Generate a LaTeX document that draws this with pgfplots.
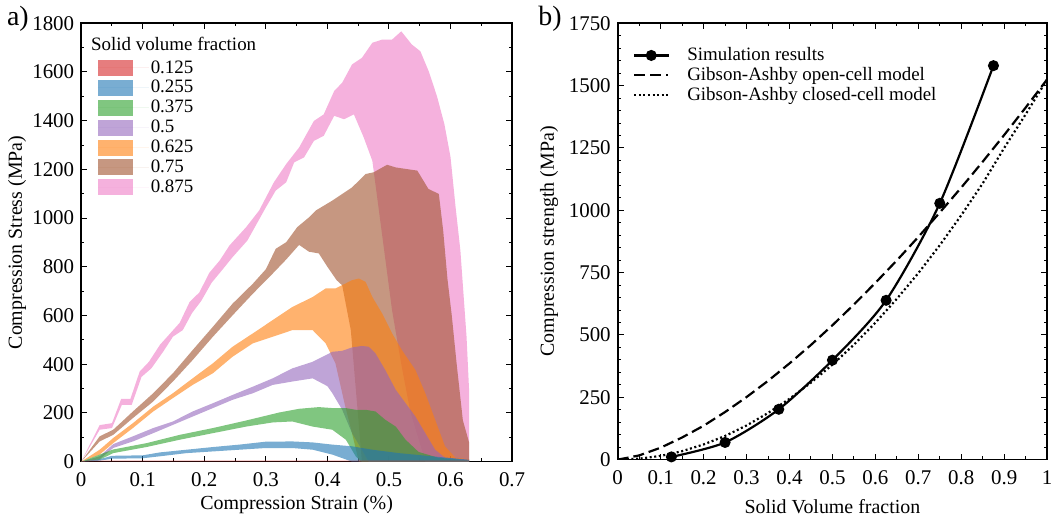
\documentclass[border=0pt]{standalone}
\usepackage{pgfplots}
\pgfplotsset{compat=1.18}
\usepackage{fontspec}
\setmainfont{Liberation Serif}
\definecolor{cred}{HTML}{D62728}
\definecolor{cblue}{HTML}{1F77B4}
\definecolor{cgreen}{HTML}{2CA02C}
\definecolor{cpurple}{HTML}{9467BD}
\definecolor{corange}{HTML}{FF7F0E}
\definecolor{cbrown}{HTML}{A0522D}
\definecolor{cpink}{HTML}{EE7DC6}
\pgfplotsset{
  common/.style={
    scale only axis,
    axis line style={line width=0.8pt},
    tick style={line width=0.5pt, black},
    major tick length=3pt, minor tick length=1.6pt,
    tick label style={font=\fontsize{10.5}{12}\selectfont},
    label style={font=\fontsize{11}{12}\selectfont},
    xticklabel style={yshift=-2pt},
    /pgf/number format/assume math mode=true,
    /pgf/number format/1000 sep={},
  },
  band/.style={fill=#1, fill opacity=0.6, draw=none},
}
\begin{document}
\begin{tikzpicture}
\path (0,0) rectangle (529.5pt,261pt);
\node[font=\fontsize{14}{15}\selectfont] at (9pt,252pt) {a)};
\node[font=\fontsize{14}{15}\selectfont] at (276pt,252pt) {b)};
\begin{axis}[common,
  at={(40.75pt,30pt)}, anchor=south west,
  width=216.25pt, height=220pt,
  xmin=0, xmax=0.7, ymin=0, ymax=1800,
  xtick={0,0.1,0.2,0.3,0.4,0.5,0.6,0.7},
  ytick={0,200,400,600,800,1000,1200,1400,1600,1800},
  minor x tick num=1, minor y tick num=1,
  xlabel={Compression Strain (\%)},
  ylabel={Compression Stress (MPa)},
  every axis x label/.style={at={(axis description cs:0.5,-0.098)}, anchor=center},
  every axis y label/.style={at={(axis description cs:-0.149,0.5)}, rotate=90, anchor=center},
  legend image code/.code={\fill[#1] (0pt,-4pt) rectangle (17.5pt,4pt); \path (0pt,0pt) -- (25.5pt,0pt);},
  legend style={at={(0.038,0.922)}, anchor=north west, draw=none, fill=none,
    inner sep=0pt, row sep=0pt, font=\fontsize{9.5}{10}\selectfont,
    nodes={inner sep=1pt, text height=6.6pt, text depth=1.4pt}},
  legend cell align=left,
  reverse legend,
]
\addplot[band=cpink] coordinates {(0,0)(0.03,150)(0.05,158)(0.065,258)(0.08,258)(0.095,370)(0.11,410)(0.128,480)(0.16,570)(0.176,655)(0.192,695)(0.208,775)(0.225,826)(0.241,888)(0.268,963)(0.289,1031)(0.313,1147)(0.333,1222)(0.354,1290)(0.378,1399)(0.394,1426)(0.411,1522)(0.424,1556)(0.44,1631)(0.456,1658)(0.473,1720)(0.489,1733)(0.505,1733)(0.52,1767)(0.537,1713)(0.551,1685)(0.565,1600)(0.578,1500)(0.59,1386)(0.60,1250)(0.608,1050)(0.616,867)(0.626,513)(0.63,300)(0.63,0)(0.559,0)(0.535,200)(0.52,400)(0.505,622)(0.473,1235)(0.459,1331)(0.443,1426)(0.427,1406)(0.411,1420)(0.394,1338)(0.378,1317)(0.362,1249)(0.346,1229)(0.333,1147)(0.316,1113)(0.30,1044)(0.27,908)(0.246,840)(0.23,790)(0.212,735)(0.195,660)(0.18,610)(0.165,540)(0.149,513)(0.133,451)(0.114,383)(0.098,348)(0.082,233)(0.066,233)(0.05,138)(0.03,131)} -- cycle;
\addlegendentry{0.875}
\addplot[band=cbrown] coordinates {(0,0)(0.03,104)(0.052,131)(0.084,206)(0.117,281)(0.149,363)(0.181,458)(0.214,554)(0.246,649)(0.279,731)(0.30,790)(0.316,874)(0.333,901)(0.351,963)(0.37,1003)(0.381,1031)(0.408,1072)(0.44,1126)(0.462,1181)(0.475,1188)(0.497,1219)(0.511,1208)(0.546,1195)(0.564,1120)(0.581,1099)(0.588,950)(0.595,750)(0.602,600)(0.61,400)(0.62,170)(0.63,80)(0.63,0)(0.456,0)(0.438,540)(0.424,724)(0.415,745)(0.40,800)(0.386,855)(0.37,862)(0.354,890)(0.333,830)(0.311,772)(0.279,690)(0.246,601)(0.214,513)(0.181,417)(0.149,329)(0.117,247)(0.084,179)(0.052,110)(0.03,83)} -- cycle;
\addlegendentry{0.75}
\addplot[band=corange] coordinates {(0,0)(0.03,49)(0.052,97)(0.084,158)(0.117,226)(0.149,281)(0.181,342)(0.214,404)(0.246,472)(0.279,527)(0.311,581)(0.343,635)(0.376,676)(0.397,711)(0.413,711)(0.429,731)(0.44,745)(0.451,752)(0.462,738)(0.473,676)(0.489,608)(0.505,527)(0.521,458)(0.543,376)(0.559,281)(0.575,172)(0.591,63)(0.608,16)(0.63,10)(0.63,0)(0.451,0)(0.44,117)(0.429,226)(0.413,404)(0.397,486)(0.376,540)(0.343,540)(0.311,513)(0.279,486)(0.246,431)(0.214,363)(0.181,315)(0.149,261)(0.117,206)(0.084,138)(0.052,76)(0.03,29)} -- cycle;
\addlegendentry{0.625}
\addplot[band=cpurple] coordinates {(0,0)(0.03,22)(0.052,72)(0.084,104)(0.117,138)(0.149,165)(0.181,206)(0.214,240)(0.246,274)(0.279,308)(0.311,342)(0.343,383)(0.376,410)(0.408,451)(0.424,455)(0.44,469)(0.456,475)(0.467,472)(0.478,445)(0.494,376)(0.511,295)(0.527,240)(0.543,185)(0.559,117)(0.575,49)(0.591,16)(0.63,8)(0.63,0)(0.467,0)(0.456,49)(0.44,117)(0.424,213)(0.408,281)(0.40,310)(0.376,342)(0.343,329)(0.311,315)(0.279,281)(0.246,254)(0.214,220)(0.181,185)(0.149,151)(0.117,117)(0.084,83)(0.052,56)(0.03,10)} -- cycle;
\addlegendentry{0.5}
\addplot[band=cgreen] coordinates {(0,0)(0.03,29)(0.052,50)(0.106,76)(0.16,110)(0.214,138)(0.268,169)(0.322,202)(0.354,217)(0.386,224)(0.408,220)(0.43,220)(0.446,213)(0.462,213)(0.478,206)(0.494,172)(0.511,144)(0.527,90)(0.548,40)(0.58,16)(0.63,5)(0.63,0)(0.455,0)(0.446,22)(0.43,90)(0.408,131)(0.376,144)(0.343,165)(0.311,161)(0.268,144)(0.214,117)(0.16,90)(0.106,60)(0.052,35)(0.03,8)} -- cycle;
\addlegendentry{0.375}
\addplot[band=cblue] coordinates {(0,0)(0.03,10)(0.05,24)(0.10,26)(0.128,38)(0.171,49)(0.214,60)(0.257,70)(0.30,82)(0.343,83)(0.376,79)(0.408,70)(0.44,63)(0.473,49)(0.516,35)(0.57,22)(0.63,8)(0.63,0)(0.44,0)(0.408,29)(0.376,49)(0.343,56)(0.30,56)(0.257,49)(0.214,42)(0.171,35)(0.128,22)(0.10,14)(0.05,12)(0.03,4)} -- cycle;
\addlegendentry{0.255}
\addplot[band=cred] coordinates {(0,0)(0.01,4)(0.63,4)(0.63,1)(0.01,1)} -- cycle;
\addlegendentry{0.125}
\node[anchor=west, font=\fontsize{9.5}{10}\selectfont, inner sep=0pt] at (rel axis cs:0.022,0.952) {Solid volume fraction};
\end{axis}
\begin{axis}[common,
  at={(310pt,31pt)}, anchor=south west,
  width=215.5pt, height=219pt,
  xmin=0, xmax=1, ymin=0, ymax=1750,
  xtick={0,0.1,0.2,0.3,0.4,0.5,0.6,0.7,0.8,0.9,1},
  ytick={0,250,500,750,1000,1250,1500,1750},
  minor x tick num=1, minor y tick num=4,
  xlabel={Solid Volume fraction},
  ylabel={Compression strength (MPa)},
  every axis x label/.style={at={(axis description cs:0.5,-0.107)}, anchor=center},
  every axis y label/.style={at={(axis description cs:-0.160,0.5)}, rotate=90, anchor=center},
  legend style={at={(0.035,0.95)}, anchor=north west, draw=none, fill=none,
    inner sep=0pt, row sep=0pt, font=\fontsize{9.5}{10}\selectfont,
    nodes={inner sep=1pt, text height=6.6pt, text depth=1.4pt},
    /tikz/every odd column/.append style={column sep=8pt}},
  legend cell align=left,
]
\addplot[black, line width=1.1pt, smooth, tension=0.45, mark=*, mark size=2.2pt] coordinates {(0.125,11)(0.25,69)(0.375,202)(0.5,399)(0.625,639)(0.75,1028)(0.875,1580)};
\addlegendentry{Simulation results}
\addplot[black, line width=1.1pt, dash pattern=on 5.5pt off 2.5pt] coordinates {(0,0)(0.05,17)(0.1,48)(0.15,89)(0.2,136)(0.25,191)(0.3,251)(0.35,316)(0.4,386)(0.45,460)(0.5,539)(0.55,622)(0.6,709)(0.65,799)(0.7,893)(0.75,991)(0.8,1091)(0.85,1195)(0.9,1302)(0.95,1412)(1,1525)};
\addlegendentry{Gibson-Ashby open-cell model}
\addplot[black, line width=1.1pt, dash pattern=on 1pt off 1.3pt] coordinates {(0,0)(0.05,4)(0.1,15)(0.15,34)(0.2,61)(0.25,95)(0.3,137)(0.35,187)(0.4,244)(0.45,309)(0.5,381)(0.55,461)(0.6,549)(0.65,645)(0.7,748)(0.75,860)(0.8,980)(0.85,1108)(0.9,1250)(0.95,1385)(1,1525)};
\addlegendentry{Gibson-Ashby closed-cell model}
\end{axis}
\end{tikzpicture}
\end{document}
